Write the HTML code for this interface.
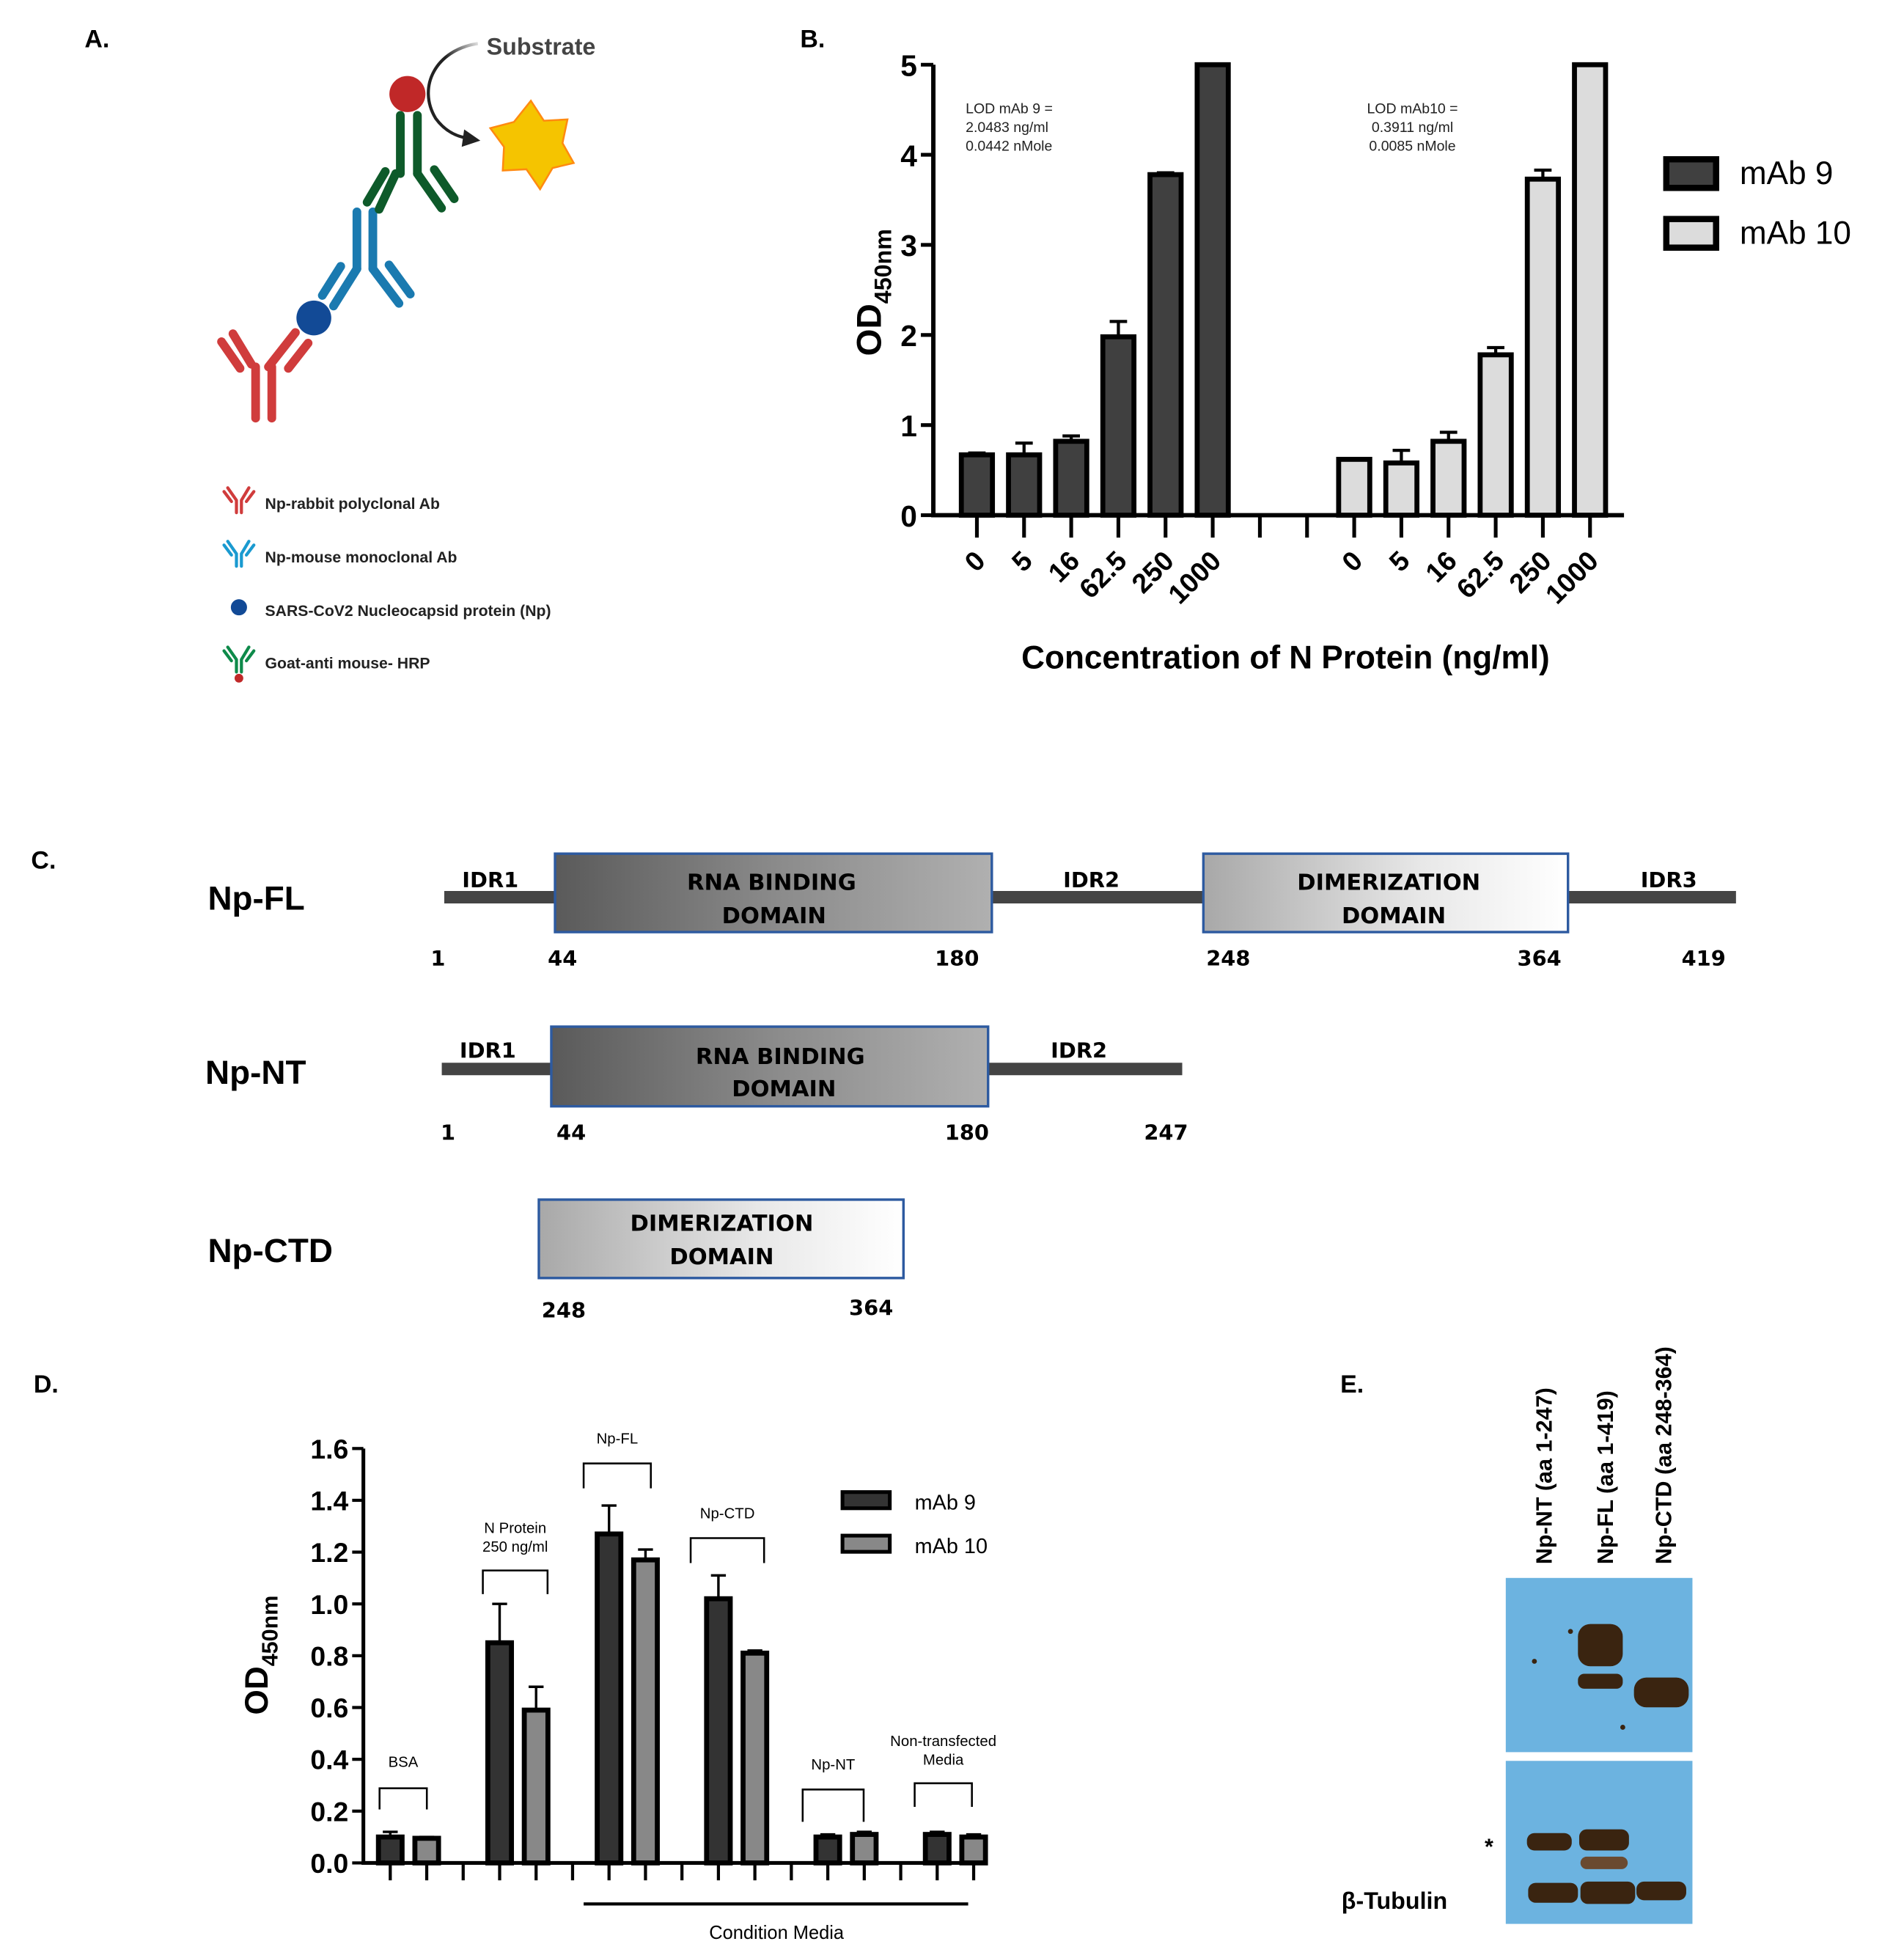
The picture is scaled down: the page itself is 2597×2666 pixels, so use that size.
<!DOCTYPE html>
<html><head><meta charset="utf-8"><style>
html,body{margin:0;padding:0;background:#fff;}
svg{display:block;font-family:"Liberation Sans",Arial,sans-serif;}
.b{font-weight:bold;}
</style></head><body>
<svg id="fig" width="2597" height="2666" viewBox="0 0 1530 1571" preserveAspectRatio="none" xmlns="http://www.w3.org/2000/svg">
<defs>
<linearGradient id="gRNA" x1="0" x2="1" y1="0" y2="0"><stop offset="0" stop-color="#5a5a5a"/><stop offset="0.5" stop-color="#8a8a8a"/><stop offset="1" stop-color="#b0b0b0"/></linearGradient>
<linearGradient id="gDim" x1="0" x2="1" y1="0" y2="0"><stop offset="0" stop-color="#a8a8a8"/><stop offset="0.6" stop-color="#e8e8e8"/><stop offset="1" stop-color="#ffffff"/></linearGradient>
<linearGradient id="gArrow" x1="1" x2="0" y1="0" y2="1"><stop offset="0" stop-color="#ddd"/><stop offset="0.4" stop-color="#222"/></linearGradient>
</defs>

<!-- Panel A -->
<g>
<text x="68" y="38" class="b" font-size="20">A.</text>
<g stroke-linecap="round" stroke-width="7" fill="none">
<g stroke="#d03c3c">
<line x1="205.4" y1="294.8" x2="205.4" y2="336"/><line x1="218.4" y1="294.8" x2="218.4" y2="336"/>
<line x1="202" y1="292.7" x2="187.2" y2="268.2"/><line x1="192.9" y1="296" x2="178" y2="274.6"/>
<line x1="215.7" y1="294.8" x2="237.4" y2="267.2"/><line x1="231.7" y1="296" x2="247.6" y2="275.7"/>
</g>
<g stroke="#1a7ab0">
<line x1="286.8" y1="170.3" x2="286.8" y2="216"/><line x1="299.6" y1="170.3" x2="299.6" y2="216"/>
<line x1="286.8" y1="216" x2="268" y2="245.9"/><line x1="273.8" y1="214" x2="259" y2="237.4"/>
<line x1="299.6" y1="216" x2="320.6" y2="243.8"/><line x1="312.6" y1="212.9" x2="329.7" y2="236.3"/>
</g>
<g stroke="#0e5a2a">
<line x1="321.7" y1="92.7" x2="321.7" y2="139.5"/><line x1="335.4" y1="92.7" x2="335.4" y2="139.5"/>
<line x1="318" y1="139.5" x2="304.6" y2="168.2"/><line x1="309.6" y1="137.8" x2="295" y2="162.5"/>
<line x1="335.4" y1="139.5" x2="354.8" y2="167.2"/><line x1="349" y1="136.3" x2="365" y2="159.7"/>
</g>
</g>
<circle cx="252.2" cy="255.5" r="14" fill="#124a96"/>
<circle cx="327.4" cy="75.6" r="14.5" fill="#c02828"/>
<polygon fill="#f5c400" stroke="#ff8a10" stroke-width="1.5" points="426.6,81 437,97 456,96 452,115 461,131 444,135 434,152 423,136 404,137 405,118 394,103 413,98"/>
<path d="M384,35 C350,40 335,70 350,95 C358,106 368,110 376,111" fill="none" stroke="url(#gArrow)" stroke-width="2.5"/>
<polygon points="386,113 373,104 371,118" fill="#222"/>
<text x="391" y="44" class="b" font-size="19" fill="#444">Substrate</text>
<g font-size="12.5" class="b" fill="#222">
<g stroke-width="2.5" fill="none" stroke-linecap="round">
<path d="M190,412 V402 M194,412 V402 M190,402 L183,392 M194,402 L200,392 M186,403 L180,395 M198,403 L204,395" stroke="#d03c3c"/>
<path d="M190,455 V445 M194,455 V445 M190,445 L183,435 M194,445 L200,435 M186,446 L180,438 M198,446 L204,438" stroke="#1a9ad0"/>
<path d="M190,540 V530 M194,540 V530 M190,530 L183,520 M194,530 L200,520 M186,531 L180,523 M198,531 L204,523" stroke="#0e8a4a"/>
</g>
<circle cx="192" cy="488" r="6.5" fill="#124a96"/>
<circle cx="192" cy="545" r="3.5" fill="#c02828"/>
<text x="213" y="409">Np-rabbit polyclonal Ab</text>
<text x="213" y="452">Np-mouse monoclonal Ab</text>
<text x="213" y="495">SARS-CoV2 Nucleocapsid protein (Np)</text>
<text x="213" y="537">Goat-anti mouse- HRP</text>
</g>
</g>

<!-- Panel B -->
<g id="panelB">
<text x="643" y="38" class="b" font-size="20">B.</text>
<text font-size="11.5" fill="#222"><tspan x="776" y="91">LOD mAb 9 =</tspan><tspan x="776" y="106">2.0483 ng/ml</tspan><tspan x="776" y="121">0.0442 nMole</tspan></text>
<text font-size="11.5" fill="#222" text-anchor="middle"><tspan x="1135" y="91">LOD mAb10 =</tspan><tspan x="1135" y="106">0.3911 ng/ml</tspan><tspan x="1135" y="121">0.0085 nMole</tspan></text>
<text transform="translate(708,235) rotate(-90)" text-anchor="middle" class="b" font-size="28">OD<tspan font-size="19" dy="8">450nm</tspan></text>
<text x="1033" y="537" text-anchor="middle" class="b" font-size="26">Concentration of N Protein (ng/ml)</text>
<rect x="1339" y="128" width="40" height="23" fill="#404040" stroke="#000" stroke-width="5"/>
<text x="1398" y="148" font-size="26">mAb 9</text>
<rect x="1339" y="176" width="40" height="23" fill="#dcdcdc" stroke="#000" stroke-width="5"/>
<text x="1398" y="196" font-size="26">mAb 10</text>
</g>

<!-- Panel C -->
<g>
<text x="25" y="698" class="b" font-size="20">C.</text>
<g font-family="'DejaVu Sans',sans-serif" font-weight="bold">
<text x="167" y="731" font-size="27" font-family="Liberation Sans,sans-serif">Np-FL</text>
<line x1="357" y1="721" x2="1395" y2="721" stroke="#444" stroke-width="10"/>
<rect x="446" y="686" width="351" height="63" fill="url(#gRNA)" stroke="#2d5aa0" stroke-width="2"/>
<text x="620" y="715" text-anchor="middle" font-size="18">RNA BINDING</text><text x="622" y="742" text-anchor="middle" font-size="18">DOMAIN</text>
<rect x="967" y="686" width="293" height="63" fill="url(#gDim)" stroke="#2d5aa0" stroke-width="2"/>
<text x="1116" y="715" text-anchor="middle" font-size="18">DIMERIZATION</text><text x="1120" y="742" text-anchor="middle" font-size="18">DOMAIN</text>
<g font-size="17" text-anchor="middle"><text x="394" y="713">IDR1</text><text x="877" y="713">IDR2</text><text x="1341" y="713">IDR3</text>
<text x="352" y="776">1</text><text x="452" y="776">44</text><text x="769" y="776">180</text><text x="987" y="776">248</text><text x="1237" y="776">364</text><text x="1369" y="776">419</text></g>

<text x="165" y="871" font-size="27" font-family="Liberation Sans,sans-serif">Np-NT</text>
<line x1="355" y1="859" x2="950" y2="859" stroke="#444" stroke-width="10"/>
<rect x="443" y="825" width="351" height="64" fill="url(#gRNA)" stroke="#2d5aa0" stroke-width="2"/>
<text x="627" y="855" text-anchor="middle" font-size="18">RNA BINDING</text><text x="630" y="881" text-anchor="middle" font-size="18">DOMAIN</text>
<g font-size="17" text-anchor="middle"><text x="392" y="850">IDR1</text><text x="867" y="850">IDR2</text>
<text x="360" y="916">1</text><text x="459" y="916">44</text><text x="777" y="916">180</text><text x="937" y="916">247</text></g>

<text x="167" y="1014" font-size="27" font-family="Liberation Sans,sans-serif">Np-CTD</text>
<rect x="433" y="964" width="293" height="63" fill="url(#gDim)" stroke="#2d5aa0" stroke-width="2"/>
<text x="580" y="989" text-anchor="middle" font-size="18">DIMERIZATION</text><text x="580" y="1016" text-anchor="middle" font-size="18">DOMAIN</text>
<g font-size="17" text-anchor="middle"><text x="453" y="1059">248</text><text x="700" y="1057">364</text></g>
</g>
</g>

<!-- Panel D -->
<g id="panelD">
<text x="27" y="1119" class="b" font-size="20">D.</text>
<text transform="translate(215,1330) rotate(-90)" text-anchor="middle" class="b" font-size="26">OD<tspan font-size="18" dy="8">450nm</tspan></text>
<rect x="677" y="1199" width="38" height="13" fill="#333" stroke="#000" stroke-width="3"/>
<text x="735" y="1213" font-size="17">mAb 9</text>
<rect x="677" y="1234" width="38" height="13" fill="#888" stroke="#000" stroke-width="3"/>
<text x="735" y="1248" font-size="17">mAb 10</text>
<line x1="469" y1="1530" x2="778" y2="1530" stroke="#000" stroke-width="2.5"/>
<text x="624" y="1558" text-anchor="middle" font-size="15">Condition Media</text>
</g>

<!-- Panel E -->
<g>
<text x="1077" y="1119" class="b" font-size="20">E.</text>
<g class="b" font-size="18">
<text transform="translate(1247,1257) rotate(-90)">Np-NT (aa 1-247)</text>
<text transform="translate(1296,1257) rotate(-90)">Np-FL (aa 1-419)</text>
<text transform="translate(1343,1257) rotate(-90)">Np-CTD (aa 248-364)</text>
</g>
<rect x="1210" y="1268" width="150" height="140" fill="#6cb3e0"/>
<rect x="1210" y="1415" width="150" height="131" fill="#6cb3e0"/>
<g fill="#3a2410">
<rect x="1268" y="1305" width="36" height="34" rx="10"/>
<rect x="1268" y="1345" width="36" height="12" rx="5"/>
<rect x="1313" y="1348" width="44" height="24" rx="10"/>
<rect x="1227" y="1473" width="36" height="14" rx="6"/>
<rect x="1269" y="1470" width="40" height="17" rx="6"/>
<rect x="1270" y="1492" width="38" height="10" rx="5" fill="#6a4a30"/>
<rect x="1228" y="1513" width="40" height="16" rx="6"/>
<rect x="1270" y="1512" width="44" height="18" rx="6"/>
<rect x="1315" y="1512" width="40" height="15" rx="6"/>
<circle cx="1233" cy="1335" r="2"/><circle cx="1262" cy="1311" r="2"/><circle cx="1304" cy="1388" r="2"/>
</g>
<text x="1193" y="1490" class="b" font-size="18">*</text>
<text x="1078" y="1534" class="b" font-size="19">β-Tubulin</text>
</g>
</svg>
<script>
const NS='http://www.w3.org/2000/svg';
function mk(tag,attrs,parent,txt){const e=document.createElementNS(NS,tag);for(const k in attrs)e.setAttribute(k,attrs[k]);if(txt!==undefined)e.textContent=txt;parent.appendChild(e);return e;}

// ---- Panel B data ----
const bCategories=['0','5','16','62.5','250','1000'];
const bMab9=[0.67,0.67,0.82,1.98,3.78,5.0];
const bMab9Err=[0.02,0.13,0.06,0.17,0.02,0];
const bMab10=[0.62,0.58,0.82,1.78,3.73,5.0];
const bMab10Err=[0.01,0.14,0.10,0.08,0.10,0];
const bYTicks=[0,1,2,3,4,5];

// ---- Panel D data ----
const dGroups=['BSA','N Protein 250 ng/ml','Np-FL','Np-CTD','Np-NT','Non-transfected Media'];
const dMab9=[0.10,0.85,1.27,1.02,0.10,0.11];
const dMab9Err=[0.02,0.15,0.11,0.09,0.01,0.01];
const dMab10=[0.095,0.59,1.17,0.81,0.11,0.10];
const dMab10Err=[0.005,0.09,0.04,0.01,0.01,0.01];
const dYTicks=['0.0','0.2','0.4','0.6','0.8','1.0','1.2','1.4','1.6'];

(function(){
const g=document.getElementById('panelB');
const x0=750,y0=414,yTop=52,vmax=5;
const ys=v=>y0-(v/vmax)*(y0-yTop);
const step=37.9,first=785;
const xs=i=>first+i*step; // slot index
const bw=25;
function drawSeries(vals,errs,off,fill,name){
 vals.forEach((v,i)=>{const cx=xs(i+off);
  const r=mk('rect',{x:cx-bw/2,y:ys(v),width:bw,height:y0-ys(v),fill:fill,stroke:'#000','stroke-width':4},g);
  
  
  if(errs[i]>0){mk('line',{x1:cx,x2:cx,y1:ys(v),y2:ys(v+errs[i]),stroke:'#000','stroke-width':2.5},g);
   mk('line',{x1:cx-7,x2:cx+7,y1:ys(v+errs[i]),y2:ys(v+errs[i]),stroke:'#000','stroke-width':2.5},g);}
  const t=mk('text',{transform:`translate(${cx+8},${y0+38}) rotate(-45)`,'text-anchor':'end','font-size':22,'font-weight':'bold'},g,bCategories[i]);
  
  
 });
}
drawSeries(bMab9,bMab9Err,0,'#404040','mab9');
drawSeries(bMab10,bMab10Err,8,'#dcdcdc','mab10');
for(let i=0;i<14;i++){mk('line',{x1:xs(i),x2:xs(i),y1:y0,y2:y0+18,stroke:'#000','stroke-width':3},g);}
const ax=mk('path',{d:`M${x0},${yTop} V${y0} H1305`,fill:'none',stroke:'#000','stroke-width':3.5},g);


bYTicks.forEach(v=>{mk('line',{x1:x0-10,x2:x0,y1:ys(v),y2:ys(v),stroke:'#000','stroke-width':3},g);
 const t=mk('text',{x:x0-13,y:ys(v)+9,'text-anchor':'end','font-size':24,'font-weight':'bold'},g,String(v));
 
 });
})();

(function(){
const g=document.getElementById('panelD');
const x0=292,y0=1497,yTop=1164,vmax=1.6;
const ys=v=>y0-(v/vmax)*(y0-yTop);
const step=29.3,first=313.6;
const xs=i=>first+i*step;
const bw=19;
const bracket=[[305,343,1437,1454,1420],[388,440,1262,1281,1247],[469,523,1176,1196,1160],[555,614,1236,1256,1220],[645,694,1438,1464,1422],[735,781,1433,1452,1418]];
dGroups.forEach((name,gi)=>{
 [[dMab9,dMab9Err,'#333','mab9'],[dMab10,dMab10Err,'#888','mab10']].forEach((s,k)=>{
  const v=s[0][gi],e=s[1][gi],cx=xs(gi*3+k);
  const r=mk('rect',{x:cx-bw/2,y:ys(v),width:bw,height:y0-ys(v),fill:s[2],stroke:'#000','stroke-width':4},g);
  
  
  mk('line',{x1:cx,x2:cx,y1:ys(v),y2:ys(v+e),stroke:'#000','stroke-width':2},g);
  mk('line',{x1:cx-6,x2:cx+6,y1:ys(v+e),y2:ys(v+e),stroke:'#000','stroke-width':2},g);
 });
 const b=bracket[gi];
 mk('path',{d:`M${b[0]},${b[3]} V${b[2]} H${b[1]} V${b[3]}`,fill:'none',stroke:'#000','stroke-width':1.5},g);
 const cx=(b[0]+b[1])/2;
 const lbl=(gi===1)?['N Protein','250 ng/ml']:(gi===5)?['Non-transfected','Media']:[name];
 lbl.forEach((l,j)=>{const t=mk('text',{x:cx,y:b[4]-(lbl.length-1-j)*15,'text-anchor':'middle','font-size':12},g,l);
  
  });
});
for(let i=0;i<17;i++){mk('line',{x1:xs(i),x2:xs(i),y1:y0,y2:y0+14,stroke:'#000','stroke-width':2.5},g);}
const ax=mk('path',{d:`M${x0},${yTop} V${y0} H793`,fill:'none',stroke:'#000','stroke-width':3},g);


dYTicks.forEach(lab=>{const v=parseFloat(lab);mk('line',{x1:x0-9,x2:x0,y1:ys(v),y2:ys(v),stroke:'#000','stroke-width':2.5},g);
 const t=mk('text',{x:x0-12,y:ys(v)+8,'text-anchor':'end','font-size':22,'font-weight':'bold'},g,lab);
 
 });
})();
</script>
</body></html>
